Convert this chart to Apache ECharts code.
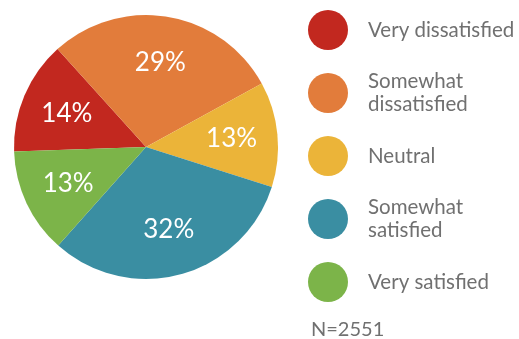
<!DOCTYPE html>
<html>
<head>
<meta charset="utf-8">
<script src="https://cdn.jsdelivr.net/npm/echarts@6/dist/echarts.min.js"></script>
<style>html,body{margin:0;padding:0;background:#fff}#c{width:519px;height:339px}</style>
</head>
<body>
<div id="c"></div>
<script>
var categories = ['Very dissatisfied', 'Somewhat dissatisfied', 'Neutral', 'Somewhat satisfied', 'Very satisfied'];
var legendLabels = ['Very dissatisfied', 'Somewhat\ndissatisfied', 'Neutral', 'Somewhat\nsatisfied', 'Very satisfied'];
var values = [14, 29, 13, 32, 13];
var colors = ['#c2281f', '#e27c3b', '#ebb439', '#3a8ea2', '#7cb449'];
var sampleNote = 'N=2551';

var chart = echarts.init(document.getElementById('c'), null, {renderer: 'canvas'});
var pieData = categories.map(function (c, i) {
  return {name: c, value: values[i], itemStyle: {color: colors[i]}};
});
var labelData = categories.map(function (c, i) {
  return {name: c, value: values[i]};
});
var fmtMap = {};
categories.forEach(function (c, i) { fmtMap[c] = legendLabels[i]; });

chart.setOption({
  animation: false,
  backgroundColor: '#ffffff',
  legend: {
    orient: 'vertical',
    left: 308,
    top: 10,
    padding: 0,
    itemWidth: 40,
    itemHeight: 40,
    itemGap: 20,
    icon: 'circle',
    data: categories,
    formatter: function (n) { return fmtMap[n]; },
    textStyle: {
      fontFamily: 'Lato',
      fontSize: 20.5,
      color: '#707070',
      lineHeight: 23,
      padding: [0, 0, 0, 15]
    }
  },
  graphic: [{
    type: 'text',
    left: 311,
    top: 320,
    style: {text: sampleNote, fontFamily: 'Lato', fontSize: 20, fill: '#707070'}
  }],
  series: [{
    type: 'pie',
    center: [146, 147],
    radius: 132,
    startAngle: 182,
    clockwise: true,
    silent: true,
    label: {show: false},
    labelLine: {show: false},
    data: pieData
  }, {
    type: 'pie',
    center: [146, 147],
    radius: 166,
    startAngle: 182,
    clockwise: true,
    silent: true,
    itemStyle: {color: 'rgba(0,0,0,0)'},
    label: {
      show: true,
      position: 'inside',
      formatter: '{c}%',
      color: '#ffffff',
      fontFamily: 'Lato',
      fontSize: 26
    },
    labelLine: {show: false},
    data: labelData
  }]
});
</script>
</body>
</html>
